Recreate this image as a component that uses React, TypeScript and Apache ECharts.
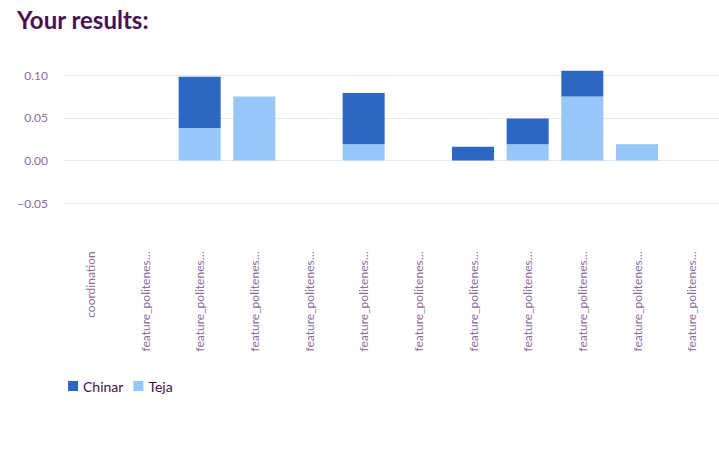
import React, { useEffect, useRef } from "react";
import * as echarts from "echarts";

const categories = [
  "coordination",
  "feature_politenes…",
  "feature_politenes…",
  "feature_politenes…",
  "feature_politenes…",
  "feature_politenes…",
  "feature_politenes…",
  "feature_politenes…",
  "feature_politenes…",
  "feature_politenes…",
  "feature_politenes…",
  "feature_politenes…",
];
const tejaValues = [0, 0, 0.038, 0.075, 0, 0.019, 0, 0, 0.019, 0.075, 0.019, 0];
const chinarValues = [0, 0, 0.06, 0, 0, 0.06, 0, 0.016, 0.03, 0.03, 0, 0];
const legendNames = ["Chinar", "Teja"];

const FONT = "Lato, 'Noto Sans', sans-serif";

export default function App() {
  const ref = useRef<HTMLDivElement>(null);
  useEffect(() => {
    document.body.style.margin = "0";
    document.body.style.overflow = "hidden";
    const chart = echarts.init(ref.current!, undefined, { renderer: "svg" });
    chart.setOption({
      animation: false,
      textStyle: { fontFamily: FONT },
      title: {
        text: "Your results:",
        left: 12,
        top: 2,
        textStyle: { fontFamily: FONT, fontSize: 24, fontWeight: "bold", color: "#4a1350" },
      },
      legend: {
        data: legendNames,
        left: 63,
        top: 374,
        icon: "rect",
        itemWidth: 10,
        itemHeight: 10,
        itemGap: 10,
        textStyle: { fontFamily: FONT, fontSize: 14, color: "#3f1148" },
      },
      grid: { left: 63, right: -8, top: 75, bottom: 248.7, containLabel: false },
      xAxis: {
        type: "category",
        data: categories,
        axisLine: { show: false, onZero: false },
        axisTick: { show: false },
        axisLabel: {
          interval: 0,
          rotate: 90,
          margin: 48,
          fontSize: 12,
          color: "#8a6d9c",
          fontFamily: FONT,
        },
        splitLine: { show: false },
      },
      yAxis: {
        type: "value",
        min: -0.05,
        max: 0.1,
        interval: 0.05,
        axisLine: { show: false },
        axisTick: { show: false },
        axisLabel: {
          margin: 15,
          fontSize: 12,
          color: "#8a6d9c",
          fontFamily: FONT,
          formatter: (v: number) =>
            v < 0 ? "\u2212" + Math.abs(v).toFixed(2) : v.toFixed(2),
        },
        splitLine: { lineStyle: { color: "#e8e8ec", width: 1 } },
      },
      series: [
        {
          name: "Teja",
          type: "bar",
          stack: "total",
          data: tejaValues,
          barWidth: 42,
          clip: false,
          itemStyle: { color: "#96c7f8" },
        },
        {
          name: "Chinar",
          type: "bar",
          stack: "total",
          data: chinarValues,
          barWidth: 42,
          clip: false,
          itemStyle: { color: "#2c67c3" },
        },
      ],
    });
    return () => chart.dispose();
  }, []);
  return <div ref={ref} style={{ width: 719, height: 452 }} />;
}
